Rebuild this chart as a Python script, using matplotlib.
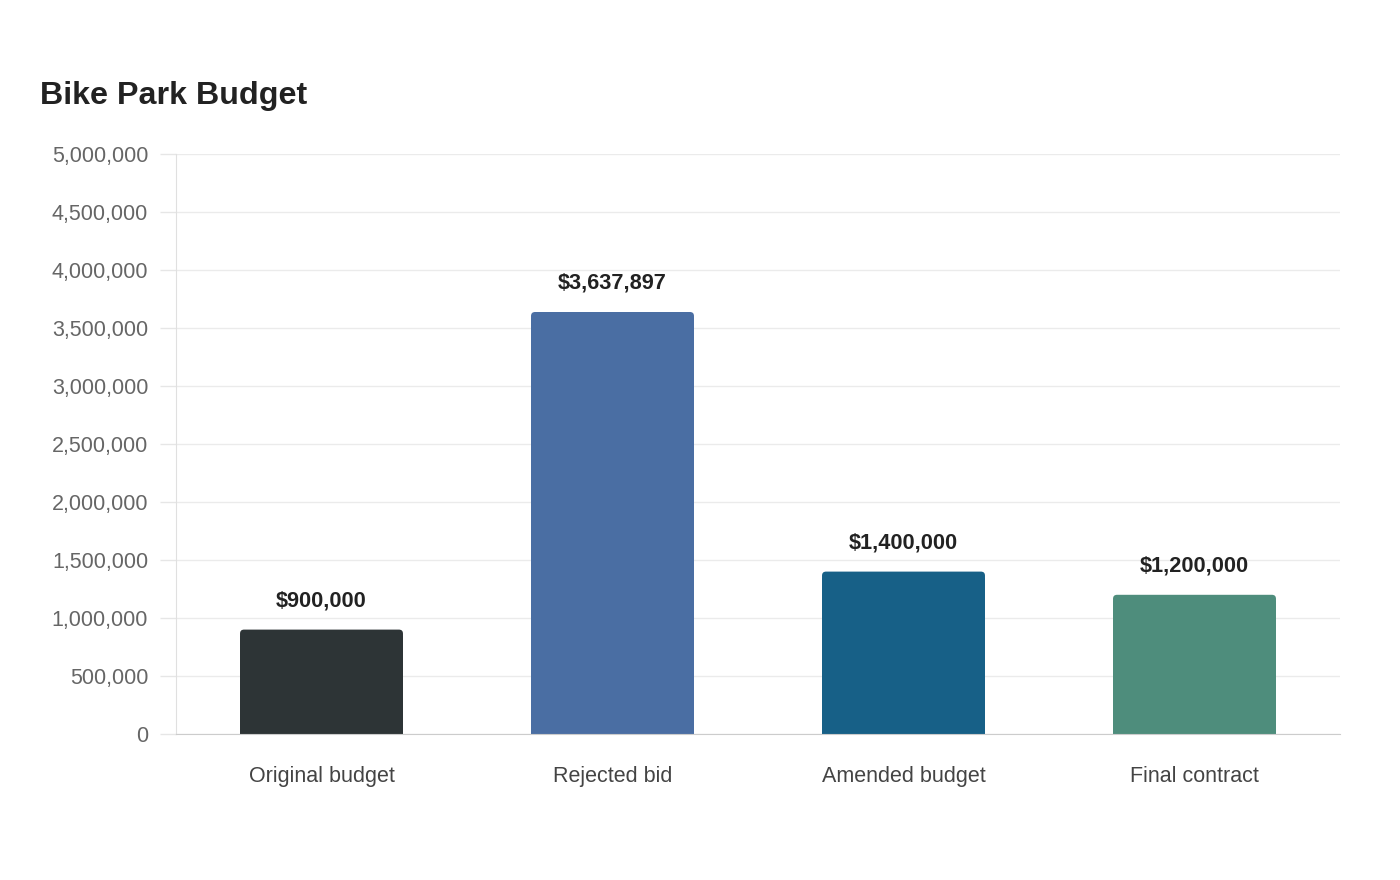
import matplotlib.pyplot as plt
from matplotlib.patches import FancyBboxPatch
from matplotlib.ticker import FuncFormatter

plt.rcParams['font.family'] = ['Liberation Sans', 'DejaVu Sans']

categories = ['Original budget', 'Rejected bid', 'Amended budget', 'Final contract']
values = [900000, 3637897, 1400000, 1200000]
colors = ['#2d3436', '#4a6ea3', '#176087', '#4e8d7c']
yticks = [0, 500000, 1000000, 1500000, 2000000, 2500000, 3000000, 3500000, 4000000, 4500000, 5000000]

fig = plt.figure(figsize=(14, 8.8), dpi=100)
ax = fig.add_axes([176/1400, 146/880, 1164/1400, 580/880])

x = range(len(categories))
bars = ax.bar(x, values, width=0.56, color=colors, zorder=2)

ax.set_xlim(-0.5, len(categories) - 0.5)
ax.set_ylim(0, 5000000)

# rounded top corners (~4px)
rx = 4 / 291
ry = 4 * 5000000 / 580
for rect, c in zip(bars, colors):
    bx, by, bw, bh = rect.get_x(), rect.get_y(), rect.get_width(), rect.get_height()
    p = FancyBboxPatch((bx, by), bw, bh, boxstyle=f'round,pad=0,rounding_size={rx}',
                       mutation_aspect=ry / rx, facecolor=c, edgecolor='none', zorder=2)
    ax.add_patch(p)
    rect.set_height(bh - ry * 1.5)

for i, v in enumerate(values):
    ax.annotate(f'${v:,.0f}', (i, v), xytext=(0, 13), textcoords='offset points',
                ha='center', va='bottom', fontsize=15.7, fontweight='bold', color='#222222')

ax.set_xticks(list(x))
ax.set_xticklabels(categories)
ax.set_yticks(yticks)
ax.yaxis.set_major_formatter(FuncFormatter(lambda v, p: f'{v:,.0f}'))

ax.tick_params(axis='x', length=0, pad=23, labelsize=15.5, labelcolor='#444444')
ax.tick_params(axis='y', length=11.5, width=1, color='#e6e6e6', pad=8.5,
               labelsize=15.5, labelcolor='#666666')

ax.grid(axis='y', color='#ebebeb', linewidth=1, zorder=0)
ax.set_axisbelow(True)
for s in ['top', 'right']:
    ax.spines[s].set_visible(False)
ax.spines['left'].set_color('#e0e0e0')
ax.spines['bottom'].set_color('#cccccc')
ax.spines['bottom'].set_zorder(3)

fig.text(40/1400, 1 - 96/880, 'Bike Park Budget', fontsize=23.2, fontweight='bold',
         color='#222222', ha='left', va='center')

fig.savefig('out.png', dpi=100)
